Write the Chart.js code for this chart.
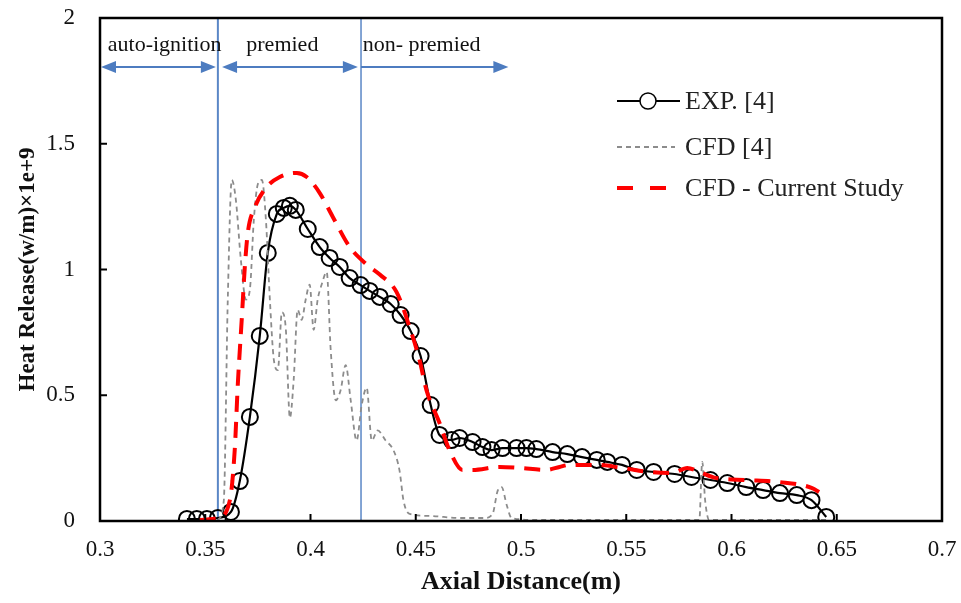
<!DOCTYPE html>
<html>
<head>
<meta charset="utf-8">
<script src="https://cdn.jsdelivr.net/npm/chart.js@4.4.0/dist/chart.umd.min.js"></script>
<style>
  html, body { margin: 0; padding: 0; background: #fff; }
  #wrap { width: 961px; height: 603px; }
</style>
</head>
<body>
<div id="wrap"><canvas id="heat-chart" width="961" height="603"></canvas></div>
<script>
/* ---------- DATA ---------- */
const seriesNames = ['EXP. [4]', 'CFD [4]', 'CFD - Current Study'];

const xTicks = [0.3, 0.35, 0.4, 0.45, 0.5, 0.55, 0.6, 0.65, 0.7];
const yTicks = [0, 0.5, 1, 1.5, 2];

const expX = [0.3413, 0.3460, 0.3508, 0.3560, 0.3622, 0.3664, 0.3712, 0.3759, 0.3797, 0.3840,
  0.3873, 0.3902, 0.3930, 0.3987, 0.4044, 0.4091, 0.4139, 0.4186, 0.4238, 0.4281,
  0.4329, 0.4381, 0.4428, 0.4476, 0.4523, 0.4571, 0.4613, 0.4670, 0.4708, 0.4770,
  0.4817, 0.4860, 0.4912, 0.4979, 0.5026, 0.5073, 0.5150, 0.5220, 0.5290, 0.5360,
  0.5410, 0.5480, 0.5550, 0.5630, 0.5730, 0.5810, 0.5900, 0.5980, 0.6070, 0.6150,
  0.6230, 0.6310, 0.6380, 0.6450];
const expY = [0.008, 0.008, 0.008, 0.012, 0.036, 0.159, 0.414, 0.736, 1.066, 1.221,
  1.245, 1.253, 1.237, 1.161, 1.089, 1.046, 1.010, 0.966, 0.938, 0.915,
  0.891, 0.863, 0.819, 0.755, 0.656, 0.461, 0.342, 0.322, 0.330, 0.314,
  0.294, 0.282, 0.290, 0.290, 0.290, 0.286, 0.274, 0.266, 0.254, 0.243,
  0.235, 0.223, 0.203, 0.195, 0.187, 0.175, 0.163, 0.151, 0.135, 0.123,
  0.111, 0.103, 0.083, 0.016];

const cfdX = [0.3560, 0.3588, 0.3607, 0.3626, 0.3645, 0.3669, 0.3693, 0.3712, 0.3731, 0.3750,
  0.3769, 0.3788, 0.3807, 0.3826, 0.3845, 0.3864, 0.3883, 0.3902, 0.3920, 0.3939,
  0.3958, 0.3977, 0.3996, 0.4015, 0.4034, 0.4053, 0.4077, 0.4096, 0.4120, 0.4143,
  0.4167, 0.4191, 0.4219, 0.4243, 0.4267, 0.4291, 0.4319, 0.4357, 0.4395, 0.4423,
  0.4442, 0.4471, 0.4566, 0.4708, 0.4827, 0.4865, 0.4889, 0.4908, 0.4932, 0.4955,
  0.5088, 0.5847, 0.5861, 0.5875, 0.5894, 0.6464];
const cfdY = [0.004, 0.080, 0.880, 1.356, 1.280, 1.040, 0.880, 0.920, 1.200, 1.340,
  1.356, 1.200, 0.880, 0.640, 0.600, 0.830, 0.760, 0.410, 0.560, 0.840,
  0.800, 0.880, 0.940, 0.760, 0.880, 0.940, 0.990, 0.680, 0.480, 0.520,
  0.620, 0.480, 0.320, 0.460, 0.530, 0.320, 0.360, 0.320, 0.280, 0.200,
  0.080, 0.028, 0.020, 0.012, 0.012, 0.028, 0.120, 0.135, 0.064, 0.012,
  0.004, 0.004, 0.235, 0.080, 0.004, 0.004];

const curX = [0.3474, 0.3560, 0.3617, 0.3640, 0.3655, 0.3674, 0.3688, 0.3702, 0.3736, 0.3792,
  0.3854, 0.3935, 0.3982, 0.4044, 0.4106, 0.4186, 0.4267, 0.4329, 0.4409, 0.4471,
  0.4518, 0.4551, 0.4613, 0.4660, 0.4722, 0.4770, 0.4898, 0.4993, 0.5121, 0.5183,
  0.5230, 0.5358, 0.5482, 0.5610, 0.5719, 0.5790, 0.5847, 0.5928, 0.6070, 0.6227,
  0.6383, 0.6416];
const curY = [0.004, 0.012, 0.083, 0.282, 0.548, 0.811, 1.010, 1.145, 1.248, 1.328,
  1.368, 1.384, 1.368, 1.304, 1.209, 1.090, 1.020, 0.980, 0.910, 0.770,
  0.640, 0.520, 0.390, 0.282, 0.203, 0.203, 0.215, 0.211, 0.203, 0.215,
  0.223, 0.223, 0.211, 0.195, 0.191, 0.211, 0.195, 0.171, 0.163, 0.155,
  0.131, 0.115];

// regions along the axis (m)
const regionNames = ['auto-ignition', 'premied', 'non- premied'];
const regionDividers = [0.356, 0.424];

/* ---------- HELPERS ---------- */
const toPoints = (xs, ys) => xs.map((x, i) => ({ x: x, y: ys[i] }));
const SERIF = "'Liberation Serif', 'DejaVu Serif', serif";
const BLUE = '#5a87c6';

function arrowHead(ctx, x, y, dir) {
  ctx.beginPath();
  ctx.moveTo(x, y);
  ctx.lineTo(x - dir * 15, y - 6);
  ctx.lineTo(x - dir * 15, y + 6);
  ctx.closePath();
  ctx.fill();
}

/* ---------- OVERLAY PLUGIN (frame, inward ticks, regions, legend) ---------- */
const overlayPlugin = {
  id: 'overlay',
  beforeDatasetsDraw(chart) {
    const { ctx, chartArea: a, scales: { x, y } } = chart;
    ctx.save();
    // region dividers
    ctx.strokeStyle = BLUE;
    regionDividers.forEach((d, i) => {
      ctx.lineWidth = i === 0 ? 2 : 1.5;
      const px = x.getPixelForValue(d);
      ctx.beginPath();
      ctx.moveTo(px, a.top);
      ctx.lineTo(px, a.bottom);
      ctx.stroke();
    });

    // arrows
    const ay = y.getPixelForValue(1.805);
    const spans = [
      [x.getPixelForValue(0.3) + 1, x.getPixelForValue(0.356) - 2, true],
      [x.getPixelForValue(0.358), x.getPixelForValue(0.4225), true],
      [x.getPixelForValue(0.424), x.getPixelForValue(0.494), false]
    ];
    ctx.fillStyle = '#4d7cc0';
    ctx.strokeStyle = '#4d7cc0';
    ctx.lineWidth = 2;
    spans.forEach(([x0, x1, both]) => {
      ctx.beginPath();
      ctx.moveTo(x0 + (both ? 8 : 0), ay);
      ctx.lineTo(x1 - 8, ay);
      ctx.stroke();
      arrowHead(ctx, x1, ay, 1);
      if (both) arrowHead(ctx, x0, ay, -1);
    });

    // region labels
    ctx.fillStyle = '#111';
    ctx.font = `22px ${SERIF}`;
    ctx.textBaseline = 'middle';
    ctx.textAlign = 'left';
    const ly = y.getPixelForValue(1.89);
    const lx = [0.3037, 0.3695, 0.4248];
    regionNames.forEach((t, i) => ctx.fillText(t, x.getPixelForValue(lx[i]), ly));
    ctx.restore();
  },
  afterDraw(chart) {
    const { ctx, chartArea: a, scales: { x, y } } = chart;
    ctx.save();
    // frame
    ctx.strokeStyle = '#000';
    ctx.lineWidth = 2.5;
    ctx.strokeRect(a.left, a.top, a.right - a.left, a.bottom - a.top);

    // inward tick marks
    ctx.lineWidth = 2;
    xTicks.forEach(v => {
      const px = x.getPixelForValue(v);
      ctx.beginPath();
      ctx.moveTo(px, a.bottom);
      ctx.lineTo(px, a.bottom - 7);
      ctx.stroke();
    });
    yTicks.forEach(v => {
      const py = y.getPixelForValue(v);
      ctx.beginPath();
      ctx.moveTo(a.left, py);
      ctx.lineTo(a.left + 7, py);
      ctx.stroke();
    });

    // legend
    const rows = [101, 147, 188];
    const ds = chart.data.datasets;
    ctx.font = `26px ${SERIF}`;
    ctx.textBaseline = 'middle';
    ctx.fillStyle = '#222';
    ds.forEach((d, i) => {
      const ly = rows[i];
      ctx.strokeStyle = d.borderColor;
      ctx.lineWidth = d.borderWidth;
      ctx.setLineDash(d.borderDash || []);
      ctx.beginPath();
      if (i === 2) {
        ctx.moveTo(617, ly); ctx.lineTo(636, ly);
        ctx.moveTo(650, ly); ctx.lineTo(668, ly);
      } else {
        ctx.moveTo(617, ly); ctx.lineTo(i === 0 ? 680 : 675, ly);
      }
      ctx.stroke();
      ctx.setLineDash([]);
      if (i === 0) {
        ctx.beginPath();
        ctx.arc(648, ly, 8, 0, Math.PI * 2);
        ctx.fillStyle = '#fff';
        ctx.fill();
        ctx.lineWidth = 1.5;
        ctx.stroke();
        ctx.fillStyle = '#222';
      }
      ctx.fillText(d.label, 685, ly + 1);
    });
    ctx.restore();
  }
};

/* ---------- CHART ---------- */
const ctx = document.getElementById('heat-chart');

new Chart(ctx, {
  type: 'line',
  data: {
    datasets: [
      {
        label: seriesNames[0],
        data: toPoints(expX, expY),
        borderColor: '#000',
        borderWidth: 2.2,
        pointStyle: 'circle',
        pointRadius: 8,
        pointBorderWidth: 2,
        pointBorderColor: '#000',
        pointBackgroundColor: 'rgba(0,0,0,0)',
        cubicInterpolationMode: 'monotone',
        order: 2
      },
      {
        label: seriesNames[1],
        data: toPoints(cfdX, cfdY),
        borderColor: '#8c8c8c',
        borderWidth: 1.8,
        borderDash: [5, 4],
        pointRadius: 0,
        cubicInterpolationMode: 'monotone',
        order: 1
      },
      {
        label: seriesNames[2],
        data: toPoints(curX, curY),
        borderColor: '#ff0000',
        borderWidth: 4,
        borderDash: [16, 10],
        pointRadius: 0,
        cubicInterpolationMode: 'monotone',
        order: 0
      }
    ]
  },
  options: {
    responsive: false,
    animation: false,
    devicePixelRatio: 1,
    layout: { autoPadding: false, padding: { top: 18, right: 19, left: 0, bottom: 0 } },
    plugins: { legend: { display: false }, tooltip: { enabled: false } },
    scales: {
      x: {
        type: 'linear',
        min: 0.3, max: 0.7,
        afterBuildTicks: s => { s.ticks = xTicks.map(v => ({ value: v })); },
        // fixed axis band; label overflow must not shrink the plot
        afterFit: s => { s.height = 82; s.paddingLeft = 0; s.paddingRight = 0; },
        grid: { display: false, drawTicks: false },
        border: { display: false },
        ticks: { color: '#111', padding: 15, font: { family: SERIF, size: 23 }, callback: v => String(v) },
        title: {
          display: true, text: 'Axial Distance(m)', color: '#111',
          font: { family: SERIF, size: 26, weight: 'bold' },
          padding: { bottom: 5 }
        }
      },
      y: {
        min: 0, max: 2,
        afterBuildTicks: s => { s.ticks = yTicks.map(v => ({ value: v })); },
        afterFit: s => { s.width = 100; s.paddingTop = 0; s.paddingBottom = 0; },
        grid: { display: false, drawTicks: false },
        border: { display: false },
        ticks: { color: '#111', padding: 25, font: { family: SERIF, size: 23 }, callback: v => String(v) },
        title: {
          display: true, text: 'Heat Release(w/m)×1e+9', color: '#111',
          font: { family: SERIF, size: 23, weight: 'bold' },
          padding: { top: 14 }
        }
      }
    }
  },
  plugins: [overlayPlugin]
});
</script>
</body>
</html>
